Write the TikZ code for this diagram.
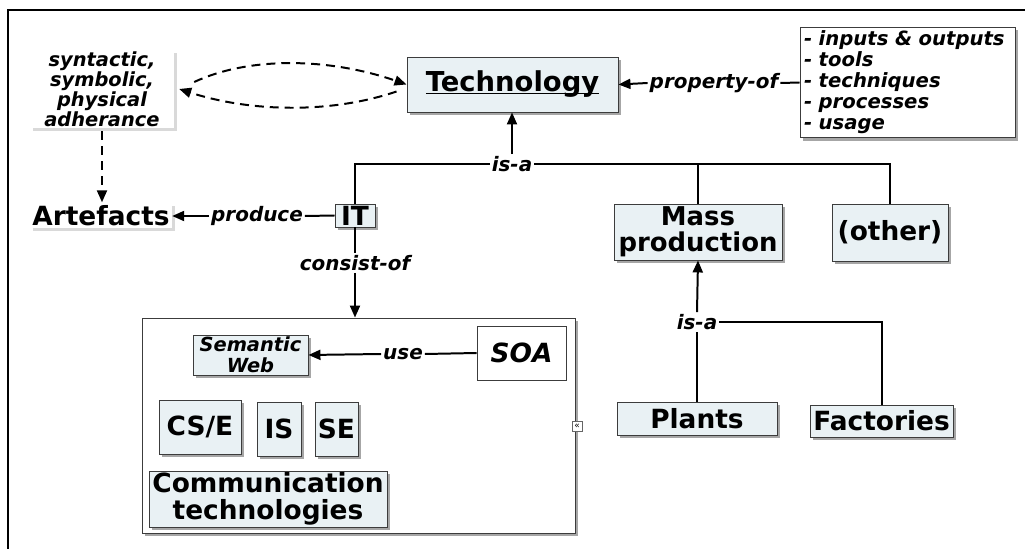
\documentclass[tikz,border=0pt]{standalone}
\usepackage{fontspec}
\setmainfont{DejaVu Sans}
\usetikzlibrary{arrows.meta,shadows,calc}
\definecolor{boxfill}{RGB}{233,241,244}
\definecolor{boxline}{RGB}{60,60,60}
% underline sitting just under the baseline
\newcommand\lowrule[1]{\setbox0=\hbox{#1}\rlap{\rule[-2.5pt]{\wd0}{1.6pt}}\box0}
\tikzset{
  bigfont/.style={font=\bfseries\fontsize{26.5}{27}\selectfont},
  labfont/.style={font=\bfseries\itshape\fontsize{20}{20}\selectfont},
  shade/.style={drop shadow={shadow xshift=3bp,shadow yshift=-3bp,fill=gray!70,opacity=1}},
  softshade/.style={drop shadow={shadow xshift=3bp,shadow yshift=-3bp,fill=gray!30,opacity=1}},
  concept/.style={draw=boxline,line width=0.9pt,fill=boxfill,shade,inner sep=0pt,align=center,bigfont},
  plainbox/.style={draw=boxline,line width=0.9pt,fill=white,inner sep=0pt,align=center},
  bare/.style={fill=white,softshade,inner sep=0pt,align=center},
  lab/.style={labfont,inner sep=2bp},
  conn/.style={line width=2pt},
  arr/.style={conn,-{Triangle[length=12bp,width=10bp]}},
  darr/.style={arr,dash pattern=on 9pt off 6pt},
}
\begin{document}
\begin{tikzpicture}[x=1bp,y=-1bp]
\useasboundingbox (0,0) rectangle (1025,549);
% frame
\draw[line width=1.2pt] (8,549) -- (8,10) -- (1025,10);

% top level
\node[concept,minimum width=211bp,minimum height=55bp,font=\bfseries\fontsize{27.5}{28}\selectfont] (tech) at (512.5,84.5) {\lowrule{Technology}};
\node[bare,font=\bfseries\itshape\fontsize{19.5}{20}\selectfont,minimum width=144bp,minimum height=78bp] (syn) at (102,89)
  {syntactic,\\symbolic,\\physical\\adherance};
\node[plainbox,shade,text width=207bp,minimum height=107bp,inner sep=4bp,align=left,
  font=\bfseries\itshape\fontsize{19.7}{21}\selectfont] (list) at (907.5,82.5)
  {- inputs \& outputs\\- tools\\- techniques\\- processes\\- usage};
\node[bare,bigfont,minimum width=142bp,minimum height=25bp] (arte) at (101,216) {Artefacts};
\node[concept,minimum width=40bp,minimum height=23bp] (it) at (355,215.5) {IT};
\node[concept,minimum width=168bp,minimum height=56bp,font=\bfseries\fontsize{26}{26}\selectfont] (mass) at (698,232) {Mass\\production};
\node[concept,minimum width=116bp,minimum height=57bp] (other) at (890,232.5) {(other)};
\node[concept,minimum width=160bp,minimum height=33bp] (plants) at (697,418.5) {Plants};
\node[concept,minimum width=143bp,minimum height=32bp] (fact) at (881.5,421) {Factories};

% IT container
\node[plainbox,shade,minimum width=433bp,minimum height=215bp] (cont) at (358.5,425.5) {};
\node[concept,minimum width=115bp,minimum height=40bp,font=\bfseries\itshape\fontsize{19.5}{21}\selectfont] (sw) at (250.5,355) {Semantic\\Web};
\node[plainbox,minimum width=89bp,minimum height=54bp,font=\bfseries\itshape\fontsize{26.5}{27}\selectfont] (soa) at (521.5,353) {SOA};
\node[concept,minimum width=82bp,minimum height=54bp] (cse) at (200,427) {CS/E};
\node[concept,minimum width=44bp,minimum height=54bp] (is) at (279,429) {IS};
\node[concept,minimum width=43bp,minimum height=54bp] (se) at (336.5,429) {SE};
\node[concept,minimum width=238bp,minimum height=56bp,font=\bfseries\fontsize{26.5}{27}\selectfont] (comm) at (268,499) {Communication\\technologies};
\node[draw=gray!80!black,line width=0.6pt,fill=white,inner sep=0pt,minimum size=10bp,font=\fontsize{9}{9}\selectfont] (fold) at (577,426) {«};

% link labels
\node[lab] (isa1) at (512,164) {is-a};
\node[lab] (produce) at (257,216) {produce};
\node[lab] (consist) at (355,263) {consist-of};
\node[lab] (prop) at (714,83) {property-of};
\node[lab] (use) at (403,354) {use};
\node[lab] (isa2) at (697,322) {is-a};

% connectors
\draw[arr] (isa1.north) -- (isa1.north |- tech.south);
\draw[conn] (it.north) |- (isa1.west);
\draw[conn] (isa1.east) -| (mass.north);
\draw[conn] (isa1.east) -| (other.north);
\draw[conn] (it.west) -- (produce.east);
\draw[arr] (produce.west) -- (arte.east);
\draw[conn] (it.south) -- (consist.north);
\draw[arr] (consist.south) -- (consist.south |- cont.north);
\draw[conn] (list.west) -- (prop.east);
\draw[arr] (prop.west) -- (tech.east);
\draw[conn] (soa.west) -- (use.east);
\draw[arr] (use.west) -- (sw.east);
\draw[conn] (plants.north) -- (isa2.south);
\draw[arr] (isa2.north) -- (mass.south);
\draw[conn] (isa2.east) -| (fact.north);

% dashed relations
\draw[darr] ([shift={(20,-7)}]syn.east) .. controls (250,56) and (330,58) .. (tech.west);
\draw[darr] ([shift={(-10,7)}]tech.west) .. controls (330,114) and (250,112) .. ([shift={(5,0)}]syn.east);
\draw[darr] ([yshift=-3bp]syn.south) -- ([yshift=1bp]syn.south |- arte.north);
\end{tikzpicture}
\end{document}
